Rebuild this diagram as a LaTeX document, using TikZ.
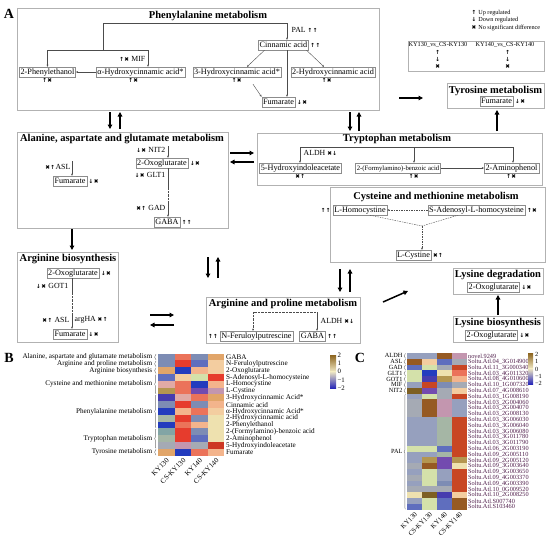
\documentclass[tikz,border=0pt]{standalone}
\usepackage{fontspec}
\setmainfont{Liberation Serif}
\newfontfamily\symfont{DejaVu Sans}
\usetikzlibrary{arrows.meta,positioning,decorations.pathreplacing}

% heat map shades
\definecolor{hS}{RGB}{125,140,180}
\definecolor{hSB}{RGB}{95,110,190}
\definecolor{hB}{RGB}{35,60,190}
\definecolor{hV}{RGB}{70,60,175}
\definecolor{hP}{RGB}{115,75,175}
\definecolor{hC}{RGB}{235,115,90}
\definecolor{hR}{RGB}{230,60,45}
\definecolor{hDR}{RGB}{205,55,35}
\definecolor{hT}{RGB}{225,165,105}
\definecolor{hPe}{RGB}{243,180,140}
\definecolor{hLP}{RGB}{243,205,160}
\definecolor{hPa}{RGB}{238,225,175}
\definecolor{hG}{RGB}{165,182,165}
\definecolor{hTe}{RGB}{130,165,165}
\definecolor{hGr}{RGB}{165,170,180}
\definecolor{hM}{RGB}{195,150,175}
\definecolor{hPk}{RGB}{225,170,165}
\definecolor{hKh}{RGB}{180,150,80}
\definecolor{hBr}{RGB}{150,90,35}
\definecolor{hOl}{RGB}{125,95,35}
\definecolor{hLG}{RGB}{212,225,170}
\definecolor{hRB}{RGB}{200,70,35}
\definecolor{hGB}{RGB}{150,160,190}
\definecolor{lgtop}{RGB}{140,100,30}
\definecolor{lgmid}{RGB}{240,232,195}
\definecolor{lgbot}{RGB}{40,40,185}
\definecolor{genecol}{RGB}{80,30,75}

\newcommand{\regsym}[1]{{\symfont\bfseries\fontsize{5.6}{6}\selectfont #1}}
\newcommand{\uarr}{\regsym{↑}\kern0.4pt}
\newcommand{\darr}{\regsym{↓}\kern0.4pt}
\newcommand{\nsig}{\regsym{✖}\kern0.4pt}

\tikzset{
	pathbox/.style={draw=black!30, line width=0.6pt},
	ptitle/.style={font=\bfseries\fontsize{10.5}{11}\selectfont, inner sep=0pt},
	met/.style={draw=black!45, line width=0.4pt, inner xsep=1.3pt, inner ysep=1.1pt, text height=6pt, text depth=1.8pt, font=\fontsize{8.2}{9}\selectfont},
	reg/.style={inner sep=0.5pt, font=\fontsize{7.8}{8}\selectfont},
	wire/.style={draw=black!70, line width=0.4pt},
	link/.style={wire, -{Stealth[length=2.2pt,width=1.9pt]}},
	flux/.style={line width=1.5pt, -{Triangle[length=4.5pt,width=4.6pt]}},
	hm/.style={font=\fontsize{7.2}{7.2}\selectfont, inner sep=0.5pt},
	gene/.style={font=\fontsize{6.3}{6.3}\selectfont, inner sep=0.4pt},
	grp/.style={decorate, decoration={brace, amplitude=1.4pt}, draw=black!55, line width=0.4pt},
	panel/.style={font=\bfseries\fontsize{14}{14}\selectfont, inner sep=0pt},
}

\begin{document}
\begin{tikzpicture}[x=1pt, y=-1pt]
	\useasboundingbox (0,0) rectangle (550,539);
	%%%%% PANEL A %%%%%
	\node[panel] at (9,14) {A};
	
	% phenylalanine
	\draw[pathbox] (17,8) rectangle (379,110);
	\node[ptitle] at (208,16) {Phenylalanine metabolism};
	\node[met] (cin) at (283.5,45) {Cinnamic acid};
	\node[reg, right=1pt of cin] {\uarr\uarr};
	\node[met] (phe2) at (47.5,72) {2-Phenylethanol};
	\node[met] (ahc) at (140.5,72) {α-Hydroxycinnamic acid*};
	\node[met] (hc3) at (237,72) {3-Hydroxycinnamic acid*};
	\node[met] (hc2) at (333,72) {2-Hydroxycinnamic acid};
	\node[met] (fum1) at (278.5,102) {Fumarate};
	\node[reg, right=1pt of fum1] {\darr\nsig};
	\node[reg, below=0.5pt of phe2] {\uarr\nsig};
	\node[reg, below=0.5pt of ahc, xshift=-7pt] {\uarr\nsig};
	\node[reg, below=0.5pt of hc3] {\uarr\nsig};
	\node[reg, below=0.5pt of hc2, xshift=-6pt] {\uarr\nsig};
	\coordinate (pheA) at (103,50);
	\coordinate (pheB) at (103,23);
	\draw[wire] (pheA) -- (pheB);
	\draw[link] (pheB) -| ([xshift=3.5pt]cin.north);
	\draw[link] (pheA) -| (phe2.north);
	\draw[link] (pheA) -| ([xshift=7.5pt]ahc.north);
	\node[reg, anchor=east] at (146,59) {\uarr\nsig\ MIF};
	\node[reg, anchor=west] at (291,30) {PAL \uarr\uarr};
	\draw[link] (ahc) -- (phe2);
	\draw[link] ([xshift=-19pt]cin.south) -- ([xshift=10pt]hc3.north);
	\draw[link] ([xshift=23pt]cin.south) -- ([xshift=-9pt]hc2.north);
	\draw[link] ([xshift=3.5pt]cin.south) -- ([xshift=8.5pt]fum1.north);
	\draw[link] ([xshift=16pt,yshift=-7pt]hc3.south) -- (fum1.north west);
	
	% legend
	\node[reg, anchor=west, font=\fontsize{6.2}{6.5}\selectfont] at (471,13) {\uarr\ Up regulated};
	\node[reg, anchor=west, font=\fontsize{6.2}{6.5}\selectfont] at (471,20.5) {\darr\ Down regulated};
	\node[reg, anchor=west, font=\fontsize{6.2}{6.5}\selectfont] at (471,28) {\nsig\ No significant difference};
	\draw[pathbox] (408,41) rectangle (544,71);
	\node[reg, font=\fontsize{6.3}{6.5}\selectfont] at (438,45) {KY130\_vs\_CS-KY130};
	\node[reg, font=\fontsize{6.3}{6.5}\selectfont] at (505,45) {KY140\_vs\_CS-KY140};
	\foreach \s/\yy in {\uarr/52,\darr/59,\nsig/66.5} {
		\node[reg] at (438,\yy) {\s};
		\node[reg] at (508,\yy) {\s};
	}
	
	% tyrosine
	\draw[pathbox] (447,83) rectangle (544,108);
	\node[ptitle] at (495.5,91) {Tyrosine metabolism};
	\node[met] (fum5) at (496.5,101) {Fumarate};
	\node[reg, right=1pt of fum5] {\darr\nsig};
	
	% alanine, aspartate and glutamate
	\draw[pathbox] (17,132) rectangle (228,228);
	\node[ptitle] at (122,139) {Alanine, aspartate and glutamate metabolism};
	\node[met] (oxo1) at (162,163) {2-Oxoglutarate};
	\node[reg, right=1pt of oxo1] {\darr\nsig};
	\node[met] (gaba1) at (167,222) {GABA};
	\node[reg, right=1pt of gaba1] {\uarr\uarr};
	\node[met] (fum2) at (70,181) {Fumarate};
	\node[reg, right=1pt of fum2] {\darr\nsig};
	\coordinate (nit) at (168,146);
	\coordinate (glt) at (168,188);
	\coordinate (gad) at (168,204);
	\draw[link] (nit) -- (nit |- oxo1.north);
	\draw[wire] (oxo1.south -| nit) -- (glt);
	\draw[wire, densely dotted] (glt) -- (gad);
	\draw[link] (gad) -- (gad |- gaba1.north);
	\node[reg, anchor=east] at (166,150) {\darr\nsig\ NIT2};
	\node[reg, anchor=east] at (166,175) {\darr\nsig\ GLT1};
	\node[reg, anchor=east] at (166,208) {\nsig\uarr\ GAD};
	\coordinate (asl1) at (72,161);
	\draw[link] (asl1) -- (asl1 |- fum2.north);
	\node[reg, anchor=east] at (71,167) {\nsig\uarr ASL};
	
	% tryptophan
	\draw[pathbox] (257,133) rectangle (542,185);
	\node[ptitle] at (397,139) {Tryptophan metabolism};
	\node[met] (hia) at (300.5,168) {5-Hydroxyindoleacetate};
	\node[met, font=\fontsize{6.7}{8}\selectfont] (fab) at (398,168) {2-(Formylamino)-benzoic acid};
	\node[met] (amp) at (511.5,168) {2-Aminophenol};
	\node[reg, below=0.5pt of hia] {\nsig\uarr};
	\node[reg, below=0.5pt of fab, xshift=16pt] {\uarr\nsig};
	\node[reg, below=0.5pt of amp] {\uarr\nsig};
	\coordinate (trpa) at (300,147);
	\coordinate (trpb) at (513,147);
	\coordinate (trpc) at (414,147);
	\draw[wire] (trpa) -- (trpb);
	\draw[link] (trpa) -- (trpa |- hia.north);
	\draw[link] (trpc) -- (trpc |- fab.north);
	\draw[link] (trpb) -- (trpb |- amp.north);
	\node[reg, anchor=west] at (303,153) {ALDH \nsig\darr};
	\draw[link] (fab) -- (amp);
	
	% cysteine and methionine
	\draw[pathbox] (330,187) rectangle (545,262);
	\node[ptitle] at (436,197) {Cysteine and methionine metabolism};
	\node[met] (hcy) at (360,210) {L-Homocystine};
	\node[reg, left=1pt of hcy] {\uarr\uarr};
	\node[met] (sah) at (476.5,210) {S-Adenosyl-L-homocysteine};
	\node[reg, right=1pt of sah] {\uarr\nsig};
	\node[met] (cys) at (413.5,255) {L-Cystine};
	\node[reg, right=1pt of cys] {\nsig\uarr};
	\draw[link, dash pattern=on 1.5pt off 1pt] (sah) -- (hcy);
	\coordinate (cysj) at (422,226);
	\draw[wire, dash pattern=on 1.5pt off 1pt] ([xshift=10pt]hcy.south) -- (cysj) -- ([xshift=-18.5pt]sah.south);
	\draw[link, dash pattern=on 1.5pt off 1pt] (cysj) -- (cysj |- cys.north);
	
	% arginine biosynthesis
	\draw[pathbox] (17,252) rectangle (118,342);
	\node[ptitle] at (68,259) {Arginine biosynthesis};
	\node[met] (oxo2) at (73,273) {2-Oxoglutarate};
	\node[reg, right=1pt of oxo2] {\darr\nsig};
	\node[met] (fum3) at (70,334) {Fumarate};
	\node[reg, right=1pt of fum3] {\darr\nsig};
	\coordinate (got) at (72,293);
	\coordinate (asl2) at (72,314);
	\draw[wire] (oxo2.south -| got) -- (got);
	\draw[wire, densely dotted] (got) -- (asl2);
	\draw[link] (asl2) -- (asl2 |- fum3.north);
	\node[reg, anchor=east] at (69,286) {\darr\nsig\ GOT1};
	\node[reg, anchor=east] at (70,320) {\nsig\uarr\ ASL};
	\node[reg, anchor=west] at (74,320) {argHA \nsig\uarr};
	
	% arginine and proline
	\draw[pathbox] (206,297) rectangle (360,343);
	\node[ptitle] at (283,304) {Arginine and proline metabolism};
	\node[met] (nfp) at (256.5,336) {N-Feruloylputrescine};
	\node[reg, left=1pt of nfp] {\uarr\uarr};
	\node[met] (gaba2) at (312.5,336) {GABA};
	\node[reg, right=1pt of gaba2] {\uarr\uarr};
	\coordinate (apa) at (253,312);
	\coordinate (apb) at (317,312);
	\draw[wire, densely dotted] (apb) -- (apa);
	\draw[link, densely dotted] (apa) -- (apa |- nfp.north);
	\draw[link] (apb) -- (apb |- gaba2.north);
	\node[reg, anchor=west] at (320,321) {ALDH \nsig\darr};
	
	% lysine
	\draw[pathbox] (453,268) rectangle (543,294);
	\node[ptitle] at (498,275) {Lysine degradation};
	\node[met] (oxo3) at (493.5,287) {2-Oxoglutarate};
	\node[reg, right=1pt of oxo3] {\darr\nsig};
	\draw[pathbox] (453,316) rectangle (543,342);
	\node[ptitle] at (498,323) {Lysine biosynthesis};
	\node[met] (oxo4) at (491.5,335) {2-Oxoglutarate};
	\node[reg, right=1pt of oxo4] {\darr\nsig};
	
	% arrows between pathways
	\foreach \n/\xa/\ya/\xb/\yb in {phty/399/98/423/98, phal/110/112/110/129, alph/120/129/120/112,
		phtr/350/112/350/131, trph/359/131/359/112, trty/497/131/497/110,
		altr/230/153/254/153, tral/254/162/230/162, alab/72/229/72/250,
		alap/208/257/208/278, apal/218/278/218/257, cyap/340/269/340/292,
		apcy/350/292/350/269, abap/150/315/174/315, apab/174/325/150/325,
		apld/383/302/408/291, lbld/498/315/498/295} {
		\coordinate (\n-s) at (\xa,\ya);
		\coordinate (\n-e) at (\xb,\yb);
		\draw[flux] (\n-s) -- (\n-e);
	}
	
	%%%%% PANEL B %%%%%
	\node[panel] at (9,358) {B};
	\foreach \qa/\qb/\qc/\qd/\nm [count=\ri] in {hS/hC/hS/hT/GABA,
		hS/hR/hSB/hLP/N-Feruloylputrescine,
		hT/hB/hPe/hLP/2-Oxoglutarate,
		hSB/hLP/hLG/hR/S-Adenosyl-L-homocysteine,
		hPk/hC/hB/hPe/L-Homocystine,
		hKh/hC/hP/hM/L-Cystine,
		hV/hPk/hC/hT/3-Hydroxycinnamic Acid*,
		hS/hR/hS/hPe/Cinnamic acid,
		hB/hPe/hC/hLP/α-Hydroxycinnamic Acid*,
		hG/hR/hS/hPa/2-Hydroxycinnamic acid,
		hB/hC/hPe/hPa/2-Phenylethanol,
		hTe/hR/hS/hPa/2-(Formylamino)-benzoic acid,
		hG/hR/hSB/hPa/2-Aminophenol,
		hGr/hM/hGr/hDR/5-Hydroxyindoleacetate,
		hT/hB/hC/hPe/Fumarate} {
		\pgfmathsetmacro{\yt}{353.6+(\ri-1)*6.8}
		\fill[fill=\qa] (158,\yt) rectangle ++(16.6,6.8);
		\fill[fill=\qb] (174.6,\yt) rectangle ++(16.6,6.8);
		\fill[fill=\qc] (191.2,\yt) rectangle ++(16.6,6.8);
		\fill[fill=\qd] (207.8,\yt) rectangle ++(16.6,6.8);
		\node[hm, anchor=west] (bm\ri) at (225.5,\yt+3.4) {\nm};
	}
	\foreach \txt/\ra/\rb in {{Alanine, aspartate and glutamate metabolism}/1/1,
		Arginine and proline metabolism/2/2, Arginine biosynthesis/3/3,
		Cysteine and methionine metabolism/4/6, Phenylalanine metabolism/7/11,
		Tryptophan metabolism/12/14, Tyrosine metabolism/15/15} {
		\pgfmathsetmacro{\ya}{353.6+(\ra-1)*6.8+0.5}
		\pgfmathsetmacro{\yb}{353.6+\rb*6.8-0.5}
		\draw[grp] (156,\yb) -- (156,\ya);
		\node[hm, anchor=east] at (153,{(\ya+\yb)/2}) {\txt};
	}
	\foreach \lab [count=\ci] in {KY130,CS-KY130,KY140,CS-KY140}
		\node[hm, rotate=45, anchor=east] at ({158+(\ci-0.5)*16.6+2},459) {\lab};
	\shade[top color=lgtop, bottom color=lgmid] (330,355) rectangle (336,371.5);
	\shade[top color=lgmid, bottom color=lgbot] (330,371.5) rectangle (336,388);
	\foreach \v/\yy in {2/355,1/363,0/371.5,−1/380,−2/388}
		\node[gene, anchor=west, font=\fontsize{6.8}{7}\selectfont] at (337,\yy) {\v};
	
	%%%%% PANEL C %%%%%
	\node[panel] at (360,358) {C};
	\foreach \qa/\qb/\qc/\qd/\nm [count=\ri] in {hGB/hGB/hBr/hM/novel.9249,
		hBr/hLP/hSB/hGr/Soltu.Atl.04\_3G014900,
		hSB/hLG/hGr/hRB/Soltu.Atl.11\_3G000340,
		hLG/hB/hPa/hC/Soltu.Atl.03\_4G011320,
		hLG/hV/hKh/hPe/Soltu.Atl.08\_4G010600,
		hGB/hRB/hS/hGr/Soltu.Atl.10\_1G007320,
		hOl/hP/hGr/hLP/Soltu.Atl.07\_4G008610,
		hGB/hLG/hGr/hRB/Soltu.Atl.03\_1G008190,
		hGr/hBr/hM/hGB/Soltu.Atl.03\_2G004060,
		hGr/hBr/hM/hGB/Soltu.Atl.03\_2G004070,
		hGr/hBr/hM/hGB/Soltu.Atl.03\_2G008130,
		hGB/hGB/hG/hRB/Soltu.Atl.03\_3G006030,
		hGB/hGB/hG/hRB/Soltu.Atl.03\_3G006040,
		hGB/hGB/hG/hRB/Soltu.Atl.03\_3G006080,
		hGB/hGB/hG/hRB/Soltu.Atl.03\_3G011780,
		hGB/hGB/hG/hRB/Soltu.Atl.03\_3G011790,
		hLG/hLG/hSB/hRB/Soltu.Atl.06\_2G003190,
		hGB/hGB/hG/hRB/Soltu.Atl.09\_2G005110,
		hGB/hKh/hP/hKh/Soltu.Atl.09\_2G005120,
		hGr/hBr/hP/hPa/Soltu.Atl.09\_3G003640,
		hGB/hLG/hGB/hRB/Soltu.Atl.09\_3G003650,
		hGr/hLG/hGB/hRB/Soltu.Atl.09\_4G003370,
		hGB/hLG/hS/hRB/Soltu.Atl.09\_4G003390,
		hGr/hGr/hGr/hRB/Soltu.Atl.10\_0G009520,
		hPa/hOl/hV/hLP/Soltu.Atl.10\_2G008250,
		hGB/hLG/hSB/hBr/Soltu.Atl.S007740,
		hSB/hLG/hSB/hBr/Soltu.Atl.S103460} {
		\pgfmathsetmacro{\yt}{353+(\ri-1)*5.8}
		\fill[fill=\qa] (407,\yt) rectangle ++(15,5.8);
		\fill[fill=\qb] (422,\yt) rectangle ++(15,5.8);
		\fill[fill=\qc] (437,\yt) rectangle ++(15,5.8);
		\fill[fill=\qd] (452,\yt) rectangle ++(15,5.8);
		\node[gene, anchor=west, text=genecol] (cg\ri) at (467.5,\yt+2.9) {\nm};
	}
	\foreach \g/\ra/\rb in {ALDH/1/1, ASL/2/2, GAD/3/3, GLT1/4/4, GOT1/5/5, MIF/6/6, NIT2/7/7, PAL/8/27} {
		\pgfmathsetmacro{\ya}{353+(\ra-1)*5.8+0.4}
		\pgfmathsetmacro{\yb}{353+\rb*5.8-0.4}
		\draw[grp] (405.5,\yb) -- (405.5,\ya);
		\node[gene, anchor=east] at (403,{(\ya+\yb)/2}) {\g};
	}
	\foreach \lab [count=\ci] in {KY130,CS-KY130,KY140,CS-KY140}
		\node[gene, font=\fontsize{6.8}{7}\selectfont, rotate=45, anchor=east] at ({407+(\ci-0.5)*15+2},513) {\lab};
	\shade[top color=lgtop, bottom color=lgmid] (528,353) rectangle (533,368.5);
	\shade[top color=lgmid, bottom color=lgbot] (528,368.5) rectangle (533,384);
	\foreach \v/\yy in {2/354,1/361.5,0/369,−1/376.5,−2/383.5}
		\node[gene, anchor=west] at (534.5,\yy) {\v};
\end{tikzpicture}
\end{document}
